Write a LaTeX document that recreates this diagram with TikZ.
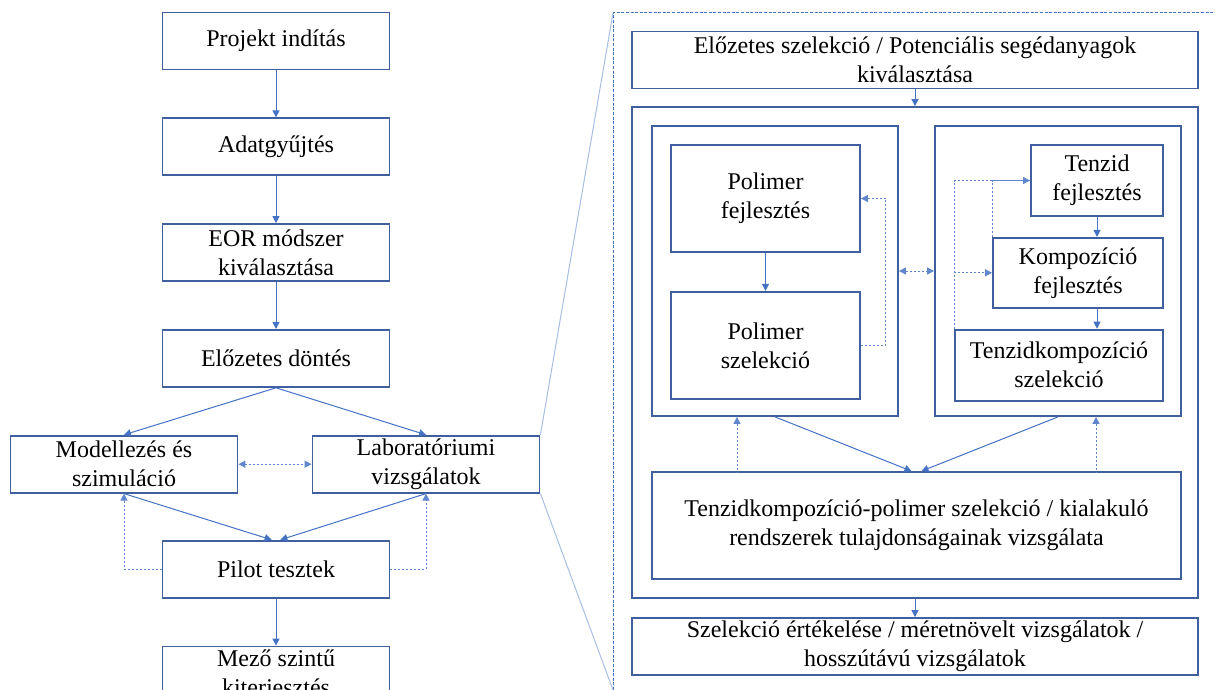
\documentclass[tikz,border=0pt]{standalone}
\usepackage{fontspec}
\setmainfont{Liberation Serif}
\usetikzlibrary{positioning,arrows.meta}
\definecolor{boxblue}{HTML}{3F5F9F}
\definecolor{linkblue}{HTML}{4472C4}
\definecolor{zoomblue}{HTML}{A8BEE4}

\begin{document}
\begin{tikzpicture}[
  x=0.5pt, y=-0.5pt,
  node distance=23.5pt and 37.5pt,
  stage/.style={draw=boxblue, line width=0.9pt, minimum width=113.5pt, minimum height=28.5pt, inner sep=1pt, align=center, font=\fontsize{12}{14.5}\selectfont},
  panel/.style={draw=boxblue, line width=0.9pt, inner sep=0pt},
  flow/.style={draw=linkblue, line width=0.5pt, ->},
  feedback/.style={draw=linkblue!85, line width=0.5pt, dash pattern=on 1pt off 1pt},
  zoomframe/.style={draw=linkblue, line width=0.5pt, dash pattern=on 1.5pt off 0.8pt},
  zoomline/.style={draw=zoomblue, line width=0.5pt},
  >={Triangle[length=3.5pt,width=3.5pt]}
]
\useasboundingbox (0,0) rectangle (1215,690);
\clip (0,0) rectangle (1215,690);

% Main process column
\node[stage] (start) at (276,41) {Projekt indítás};
\node[stage, below=of start] (data) {Adatgyűjtés};
\node[stage, below=of data] (eor) {EOR módszer\\kiválasztása};
\node[stage, below=of eor] (pre) {Előzetes döntés};
\node[stage, below=of pre, xshift=-76pt] (model) {Modellezés és\\szimuláció};
\node[stage, below=of pre, xshift=75pt] (labor) {Laboratóriumi\\vizsgálatok};
\node[stage, below=76pt of pre] (pilot) {Pilot tesztek};
\node[stage, below=of pilot] (field) {Mező szintű\\kiterjesztés};

% Edges of the main column
\draw[flow] (start) -- (data);
\draw[flow] (data) -- (eor);
\draw[flow] (eor) -- (pre);
\draw[flow] (pre.south) -- (model.north);
\draw[flow] (pre.south) -- (labor.north);
\draw[flow] (model.south) -- ([xshift=-2.2pt]pilot.north);
\draw[flow] (labor.south) -- ([xshift=2.2pt]pilot.north);
\draw[flow] (pilot) -- (field);

% Feedback loops
\draw[feedback, <->] (model) -- (labor);
\draw[feedback, ->] (pilot.west) -| (model.south);
\draw[feedback, ->] (pilot.east) -| (labor.south);

% Detail of the laboratory stage
\coordinate (frametop) at (613,13);
\coordinate (framebot) at (613,690);
\draw[zoomframe] (framebot) -- (frametop) -- (1220,13);
\draw[zoomline] (labor.north east) -- (frametop);
\draw[zoomline] (labor.south east) -- (framebot);

\node[stage, minimum width=283pt] (presel) at (915,60) {Előzetes szelekció / Potenciális segédanyagok\\kiválasztása};
\node[panel, minimum width=283pt, minimum height=245.5pt] (core) at (915,352.5) {};
\node[stage, minimum width=283pt] (review) at (915,646.5) {Szelekció értékelése / méretnövelt vizsgálatok /\\hosszútávú vizsgálatok};

% Polymer branch
\node[panel, minimum width=123pt, minimum height=145pt] (polpanel) at (775,271) {};
\node[stage, minimum width=94.5pt, minimum height=53.5pt] (poldev) at (765.5,198.5) {Polimer\\fejlesztés};
\node[stage, minimum width=94.5pt, minimum height=53.5pt, below=19pt of poldev] (polsel) {Polimer\\szelekció};

% Surfactant branch
\node[panel, minimum width=123pt, minimum height=145pt] (tenpanel) at (1058,271) {};
\node[stage, minimum width=66pt, minimum height=35.5pt] (tendev) at (1097,180.5) {Tenzid\\fejlesztés};
\node[stage, minimum width=85pt, minimum height=35pt, below=10pt of tendev.south east, anchor=north east] (compdev) {Kompozíció\\fejlesztés};
\node[stage, minimum width=104pt, minimum height=35.5pt, below=10pt of compdev.south east, anchor=north east] (compsel) {Tenzidkompozíció\\szelekció};

% Combined selection
\node[stage, minimum width=264.5pt, minimum height=53.5pt] (mix) at (916.5,525.5) {Tenzidkompozíció-polimer szelekció / kialakuló\\rendszerek tulajdonságainak vizsgálata};

% Edges of the detail
\draw[flow] (presel) -- (core);
\draw[flow] (core) -- (review);
\draw[flow] (poldev) -- (polsel);
\draw[flow] (tendev.south) -- (tendev.south |- compdev.north);
\draw[flow] (tendev.south |- compdev.south) -- (tendev.south |- compsel.north);
\draw[flow] (polpanel.south) -- ([xshift=-2.5pt]mix.north);
\draw[flow] (tenpanel.south) -- ([xshift=2.5pt]mix.north);

\draw[feedback, ->] (polsel.east) -- ++(25,0) |- (poldev.east);
\draw[feedback, <->] (polpanel) -- (tenpanel);
\draw[feedback, ->] (compsel.north west) |- (tendev.west);
\draw[feedback] (compdev.north west) |- (tendev.west);
\draw[feedback, ->] (compsel.north west |- compdev.west) -- (compdev.west);
\draw[feedback, <-] ([xshift=-19pt]polpanel.south) -- ++(0,56);
\draw[feedback, <-] ([xshift=19pt]tenpanel.south) -- ++(0,56);

\end{tikzpicture}
\end{document}
